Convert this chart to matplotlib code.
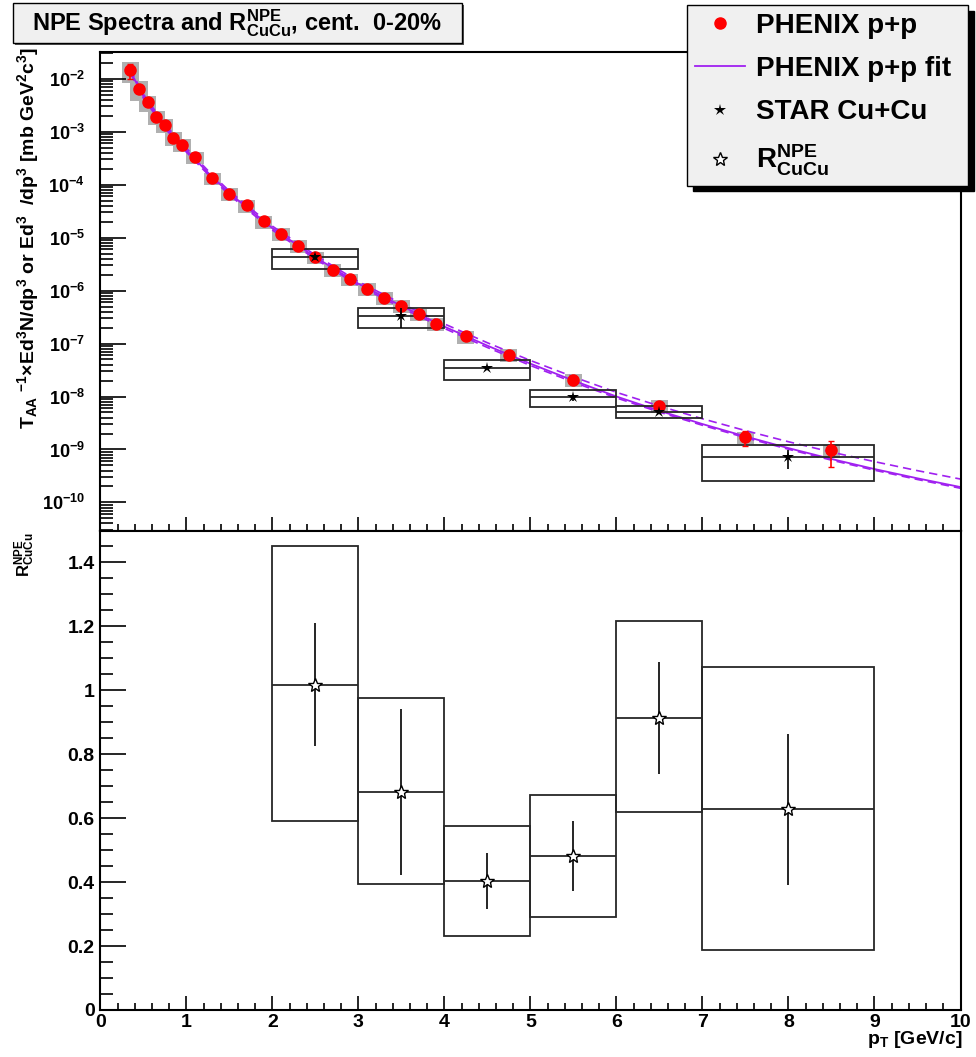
import matplotlib
matplotlib.use('Agg')
import matplotlib.pyplot as plt
from matplotlib.patches import Rectangle
from matplotlib.ticker import MultipleLocator, LogLocator, NullFormatter, FuncFormatter

plt.rcParams['font.family'] = ['Liberation Sans', 'DejaVu Sans']
plt.rcParams['font.weight'] = 'bold'
plt.rcParams['mathtext.default'] = 'regular'
plt.rcParams['axes.linewidth'] = 1.5

# PHENIX p+p points
phx_pt = [0.35, 0.45, 0.55, 0.65, 0.75, 0.85, 0.95, 1.1, 1.3, 1.5, 1.7, 1.9, 2.1, 2.3,
          2.5, 2.7, 2.9, 3.1, 3.3, 3.5, 3.7, 3.9, 4.25, 4.75, 5.5, 6.5, 7.5, 8.5]
phx_y = [1.44e-2, 6.4e-3, 3.57e-3, 1.88e-3, 1.34e-3, 7.6e-4, 5.7e-4, 3.3e-4, 1.33e-4, 6.7e-5,
         4.05e-5, 2.03e-5, 1.18e-5, 7.0e-6, 4.3e-6, 2.47e-6, 1.65e-6, 1.08e-6, 7.4e-7, 5.2e-7,
         3.6e-7, 2.37e-7, 1.36e-7, 6.2e-8, 2.07e-8, 6.7e-9, 1.71e-9, 9.6e-10]
phx_stat = [4.5e-3, 6e-4, 2.5e-4, 1.1e-4, 7e-5, 4e-5, 3e-5, 1.5e-5, 6e-6, 3e-6,
            1.8e-6, 9e-7, 5e-7, 3e-7, 1.8e-7, 1e-7, 7e-8, 4.5e-8, 3e-8, 2.2e-8,
            1.5e-8, 1e-8, 6e-9, 3e-9, 1.3e-9, 6e-10, 5.5e-10, 5e-10]
phx_sys_rel = [0.42, 0.4, 0.33, 0.3, 0.28, 0.28, 0.27, 0.27, 0.27, 0.27, 0.27, 0.27, 0.27, 0.27,
               0.27, 0.27, 0.27, 0.27, 0.27, 0.27, 0.27, 0.27, 0.27, 0.27, 0.27, 0.27, 0.27, 0.27]

# PHENIX p+p fit (central and band)
fit_pt = [0.35, 0.5, 0.75, 1.0, 1.25, 1.5, 2.0, 2.5, 3.0, 3.5, 4.0, 4.5, 5.0, 5.5, 6.0, 6.5,
          7.0, 7.5, 8.0, 8.5, 9.0, 9.5, 10.0]
fit_y = [1.38e-2, 4.68e-3, 1.26e-3, 4.47e-4, 1.70e-4, 6.92e-5, 1.51e-5, 4.27e-6, 1.35e-6,
         5.13e-7, 2.09e-7, 9.12e-8, 4.17e-8, 2.0e-8, 1.0e-8, 5.37e-9, 3.02e-9, 1.76e-9,
         1.06e-9, 6.61e-10, 4.27e-10, 2.85e-10, 1.95e-10]
fit_hi = [1.51e-2, 5.13e-3, 1.38e-3, 4.90e-4, 1.86e-4, 7.58e-5, 1.65e-5, 4.68e-6, 1.48e-6,
          5.69e-7, 2.35e-7, 1.035e-7, 4.79e-8, 2.35e-8, 1.20e-8, 6.61e-9, 3.80e-9, 2.27e-9,
          1.40e-9, 8.92e-10, 5.89e-10, 3.98e-10, 2.76e-10]
fit_lo = [1.27e-2, 4.32e-3, 1.16e-3, 4.13e-4, 1.57e-4, 6.39e-5, 1.39e-5, 3.94e-6, 1.25e-6,
          4.74e-7, 1.93e-7, 8.42e-8, 3.85e-8, 1.86e-8, 9.4e-9, 5.07e-9, 2.86e-9, 1.67e-9,
          1.01e-9, 6.28e-10, 4.06e-10, 2.71e-10, 1.85e-10]

# STAR Cu+Cu bins
bin_lo = [2, 3, 4, 5, 6, 7]
bin_hi = [3, 4, 5, 6, 7, 9]
bin_pt = [2.5, 3.5, 4.5, 5.5, 6.5, 8.0]
star_y = [4.35e-6, 3.35e-7, 3.49e-8, 9.6e-9, 5.2e-9, 7.07e-10]
star_stat = [6e-7, 1.38e-7, 3e-9, 1.2e-9, 5e-10, 2.7e-10]
star_sys_hi = [6.17e-6, 4.74e-7, 4.94e-8, 1.30e-8, 6.5e-9, 1.19e-9]
star_sys_lo = [2.58e-6, 1.99e-7, 2.07e-8, 6.2e-9, 4.0e-9, 2.54e-10]

# R_CuCu
r_val = [1.018, 0.681, 0.403, 0.481, 0.913, 0.628]
r_stat = [0.193, 0.26, 0.088, 0.11, 0.176, 0.236]
r_sys_hi = [1.452, 0.976, 0.577, 0.674, 1.217, 1.073]
r_sys_lo = [0.591, 0.393, 0.231, 0.292, 0.618, 0.188]

W, H = 976, 1057
purple = '#a020f0'
boxc = '#262626'


def fx(px):
    return px / W


def fy(py):
    return 1 - py / H


fig = plt.figure(figsize=(W / 100, H / 100), dpi=100)
ax1 = fig.add_axes([fx(100.3), fy(530.5), fx(960.5) - fx(100.3), fy(52) - fy(530.5)])
ax2 = fig.add_axes([fx(100.3), fy(1010), fx(960.5) - fx(100.3), fy(530.5) - fy(1010)])

# ---- top panel
widths = [hi - lo for lo, hi in zip(bin_lo, bin_hi)]
sys_b = [y * r for y, r in zip(phx_y, phx_sys_rel)]
ax1.bar(phx_pt, [2 * s for s in sys_b], width=0.2,
        bottom=[y - s for y, s in zip(phx_y, sys_b)], color='#b0b0b0', zorder=1)
ln_fit, = ax1.plot(fit_pt, fit_y, color=purple, lw=1.3, zorder=2)
ax1.plot(fit_pt, fit_hi, color=purple, lw=1.2, ls=(0, (5, 3)), zorder=2)
ax1.plot(fit_pt, fit_lo, color=purple, lw=1.2, ls=(0, (5, 3)), zorder=2)
ax1.bar(bin_pt, [h - l for h, l in zip(star_sys_hi, star_sys_lo)], width=widths,
        bottom=star_sys_lo, fill=False, edgecolor=boxc, lw=1.3, zorder=3)
ax1.hlines(star_y, bin_lo, bin_hi, color=boxc, lw=1.3, zorder=3)
ax1.errorbar(phx_pt, phx_y, yerr=phx_stat, fmt='none', ecolor='red', elinewidth=1.2,
             capsize=2, zorder=4)
ln_phx, = ax1.plot(phx_pt, phx_y, 'o', color='red', ms=8, ls='none', zorder=5)
ax1.errorbar(bin_pt, star_y, yerr=star_stat, fmt='none', ecolor='k', elinewidth=1.2, zorder=6)
ln_star, = ax1.plot(bin_pt, star_y, '*', color='k', mew=0, ms=9, ls='none', zorder=7)

ax1.set_xlim(0, 10)
ax1.set_yscale('log')
ax1.set_ylim(2.95e-11, 3.2e-2)
ax1.xaxis.set_major_locator(MultipleLocator(1))
ax1.xaxis.set_minor_locator(MultipleLocator(0.2))
ax1.yaxis.set_major_locator(LogLocator(base=10, numticks=30))
ax1.yaxis.set_minor_locator(LogLocator(base=10, subs=[2, 3, 4, 5, 6, 7, 8, 9], numticks=30))
ax1.yaxis.set_minor_formatter(NullFormatter())
ax1.tick_params(axis='x', which='both', direction='in', labelbottom=False, top=False)
ax1.tick_params(axis='x', which='major', length=10, width=1.2)
ax1.tick_params(axis='x', which='minor', length=5, width=1.2)
ax1.tick_params(axis='y', which='both', direction='in', right=False, labelsize=13, pad=11)
ax1.tick_params(axis='y', which='major', length=19, width=1.2)
ax1.tick_params(axis='y', which='minor', length=9.5, width=1.2)

# ---- bottom panel
ax2.bar(bin_pt, [h - l for h, l in zip(r_sys_hi, r_sys_lo)], width=widths,
        bottom=r_sys_lo, fill=False, edgecolor=boxc, lw=1.3, zorder=3)
ax2.hlines(r_val, bin_lo, bin_hi, color=boxc, lw=1.3, zorder=3)
ax2.errorbar(bin_pt, r_val, yerr=r_stat, fmt='none', ecolor='k', elinewidth=1.2, zorder=4)
ln_r, = ax2.plot(bin_pt, r_val, '*', mfc='white', mec='k', mew=1.0, ms=10, ls='none', zorder=5)

ax2.set_xlim(0, 10)
ax2.set_ylim(0, 1.5)
ax2.xaxis.set_major_locator(MultipleLocator(1))
ax2.xaxis.set_minor_locator(MultipleLocator(0.2))
ax2.yaxis.set_major_locator(MultipleLocator(0.2))
ax2.yaxis.set_minor_locator(MultipleLocator(0.05))
fmt = FuncFormatter(lambda v, p: f'{v:g}')
ax2.xaxis.set_major_formatter(fmt)
ax2.yaxis.set_major_formatter(fmt)
ax2.tick_params(axis='x', which='both', direction='in', top=False, labelsize=14, pad=3)
ax2.tick_params(axis='x', which='major', length=10, width=1.2)
ax2.tick_params(axis='x', which='minor', length=5, width=1.2)
ax2.tick_params(axis='y', which='both', direction='in', right=False, labelsize=14, pad=4)
ax2.tick_params(axis='y', which='major', length=19, width=1.2)
ax2.tick_params(axis='y', which='minor', length=9.5, width=1.2)

# ---- axis titles
fig.text(fx(28), fy(47),
         r'T$_{AA}$ $^{-1}$$\times$Ed$^{3}$N/dp$^{3}$ or Ed$^{3}$  /dp$^{3}$ [mb GeV$^{2}$c$^{3}$]',
         rotation=90, ha='center', va='top', fontsize=14)
fig.text(fx(25), fy(532), r'R$^{NPE}_{CuCu}$', rotation=90, ha='center', va='top', fontsize=12)
fig.text(fx(962), fy(1040), r'p$_{T}$ [GeV/c]', ha='right', va='center', fontsize=14)

# ---- title box
fig.add_artist(Rectangle((fx(14.7), fy(44.7)), fx(462) - fx(12.7), fy(2.7) - fy(42.7),
                         transform=fig.transFigure, fc='#555555', ec='none'))
fig.add_artist(Rectangle((fx(12.7), fy(42.7)), fx(462) - fx(12.7), fy(2.7) - fy(42.7),
                         transform=fig.transFigure, fc='#f0f0f0', ec='k', lw=1))
fig.text(fx(237), fy(23), r'NPE Spectra and R$^{NPE}_{CuCu}$, cent.  0-20%',
         ha='center', va='center', fontsize=17)

# ---- legend
fig.legend([ln_phx, ln_fit, ln_star, ln_r],
           ['PHENIX p+p', 'PHENIX p+p fit', 'STAR Cu+Cu', r'R$^{NPE}_{CuCu}$'],
           loc='upper left', mode='expand',
           bbox_to_anchor=(fx(687), fy(183), fx(968) - fx(687), fy(5) - fy(183)),
           borderaxespad=0, fontsize=20, frameon=True, fancybox=False,
           edgecolor='k', facecolor='#f0f0f0', framealpha=1,
           shadow={'ox': 4.3, 'oy': -4.3, 'color': 'k', 'alpha': 1},
           handlelength=1.8, handletextpad=0.4, borderpad=0.28, labelspacing=0.62)

plt.savefig('out.png', dpi=100)
